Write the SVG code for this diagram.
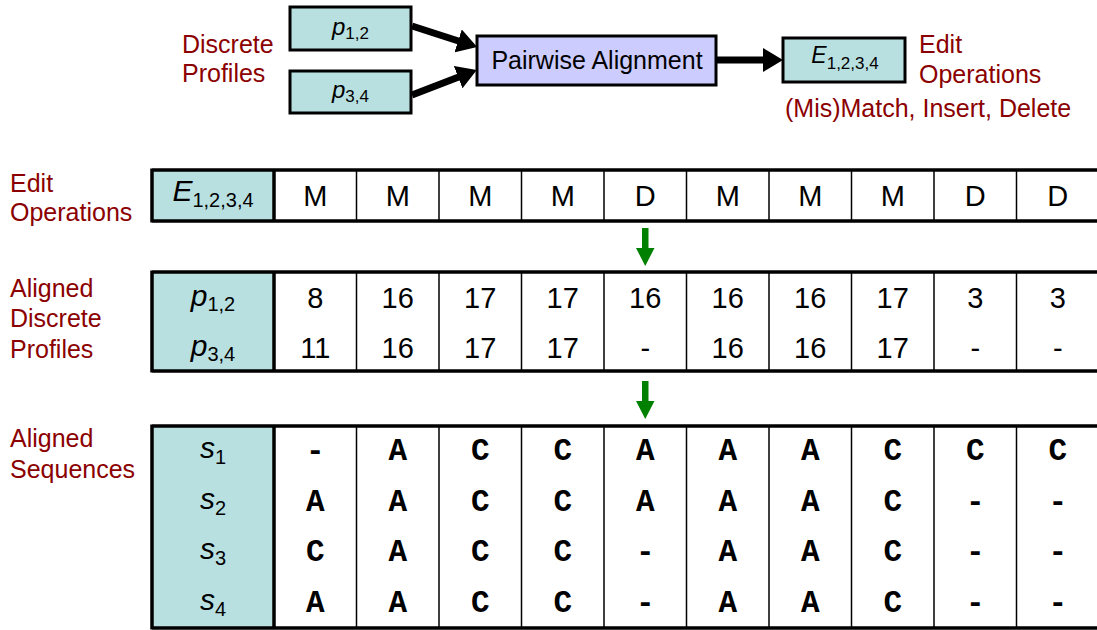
<svg xmlns="http://www.w3.org/2000/svg" width="1097" height="630" viewBox="0 0 1097 630">
<style>
text{font-family:"Liberation Sans",Arial,sans-serif;}
.lbl{font-size:25px;fill:#8B0000;}
.box{fill:#B9E0E1;stroke:#000;stroke-width:3;}
.pa{fill:#CCCCFF;stroke:#000;stroke-width:3;}
.hdr{fill:#B9E0E1;stroke:none;}
.thick{stroke:#000;stroke-width:3.5;fill:none;}
.thin{stroke:#000;stroke-width:1.5;fill:none;}
.cell{font-size:29px;text-anchor:middle;fill:#000;}
.mono{font-family:"Liberation Mono","Courier New",monospace;font-weight:bold;font-size:31px;text-anchor:middle;fill:#000;}
.it{font-style:italic;}
.conn{stroke:#000;stroke-width:7;fill:none;}
.green{fill:#008000;}
</style>
<defs>
<marker id="ah" markerUnits="userSpaceOnUse" markerWidth="22" markerHeight="24" refX="2" refY="12" orient="auto" viewBox="0 0 22 24">
<path d="M0,0 L20,12 L0,24 z" fill="#000"/>
</marker>
</defs>

<g id="label-discrete-profiles">
<text class="lbl" x="182" y="53">Discrete</text>
<text class="lbl" x="182" y="82">Profiles</text>
</g>
<g id="label-edit-operations-top">
<text class="lbl" x="919" y="53">Edit</text>
<text class="lbl" x="919" y="83">Operations</text>
<text class="lbl" x="785" y="117">(Mis)Match, Insert, Delete</text>
</g>

<g id="node-p12">
<rect class="box" x="290" y="7" width="121" height="43"/>
<text x="350.5" y="35" font-size="24" text-anchor="middle"><tspan class="it">p</tspan><tspan font-size="17" dy="4">1,2</tspan></text>
</g>
<g id="node-p34">
<rect class="box" x="290" y="71" width="121" height="42"/>
<text x="350.5" y="98" font-size="24" text-anchor="middle"><tspan class="it">p</tspan><tspan font-size="17" dy="4">3,4</tspan></text>
</g>
<g id="node-pairwise">
<rect class="pa" x="477" y="36" width="239" height="49"/>
<text x="597" y="69" font-size="25" text-anchor="middle">Pairwise Alignment</text>
</g>
<g id="node-E">
<rect class="box" x="783" y="38" width="122" height="44"/>
<text x="845" y="63" font-size="23" text-anchor="middle"><tspan class="it">E</tspan><tspan font-size="17" dy="6">1,2,3,4</tspan></text>
</g>

<g id="connectors">
<line class="conn" x1="412" y1="26" x2="460" y2="41.5" marker-end="url(#ah)"/>
<line class="conn" x1="412" y1="95" x2="460" y2="76.4" marker-end="url(#ah)"/>
<line class="conn" x1="716" y1="60" x2="765" y2="60" marker-end="url(#ah)"/>
<path class="green" d="M642,228 H648.5 V248 H654.5 L645.25,266 L636,248 H642 Z"/>
<path class="green" d="M642,381 H648.5 V401 H654.5 L645.25,419 L636,401 H642 Z"/>
</g>

<g id="label-edit-ops">
<text class="lbl" x="10" y="192">Edit</text>
<text class="lbl" x="10" y="221">Operations</text>
</g>
<g id="label-aligned-profiles">
<text class="lbl" x="10" y="297">Aligned</text>
<text class="lbl" x="10" y="327">Discrete</text>
<text class="lbl" x="10" y="358">Profiles</text>
</g>
<g id="label-aligned-seqs">
<text class="lbl" x="10" y="447">Aligned</text>
<text class="lbl" x="10" y="478">Sequences</text>
</g>

<g id="table-edit">
<rect class="hdr" x="152" y="170" width="122" height="51"/>
<path class="thin" d="M356.5,170V221M439,170V221M521.5,170V221M604,170V221M686.5,170V221M769,170V221M851.5,170V221M934,170V221M1016.5,170V221"/>
<path class="thick" d="M152,170H1097M152,221H1097M152,168.5V222.5M274,170V221"/>
<text x="213" y="201" font-size="30" text-anchor="middle"><tspan class="it">E</tspan><tspan font-size="20" dy="6">1,2,3,4</tspan></text>
<text class="cell" x="315.25" y="206">M</text>
<text class="cell" x="397.75" y="206">M</text>
<text class="cell" x="480.25" y="206">M</text>
<text class="cell" x="562.75" y="206">M</text>
<text class="cell" x="645.25" y="206">D</text>
<text class="cell" x="727.75" y="206">M</text>
<text class="cell" x="810.25" y="206">M</text>
<text class="cell" x="892.75" y="206">M</text>
<text class="cell" x="975.25" y="206">D</text>
<text class="cell" x="1057.75" y="206">D</text>
</g>

<g id="table-profiles">
<rect class="hdr" x="152" y="272" width="122" height="99"/>
<path class="thin" d="M356.5,272V371M439,272V371M521.5,272V371M604,272V371M686.5,272V371M769,272V371M851.5,272V371M934,272V371M1016.5,272V371"/>
<path class="thick" d="M152,272H1097M152,371H1097M152,270.5V372.5M274,272V371"/>
<text x="213" y="306" font-size="30" text-anchor="middle"><tspan class="it">p</tspan><tspan font-size="20" dy="5">1,2</tspan></text>
<text x="213" y="356" font-size="30" text-anchor="middle"><tspan class="it">p</tspan><tspan font-size="20" dy="5">3,4</tspan></text>
<text class="cell" x="315.25" y="308">8</text>
<text class="cell" x="397.75" y="308">16</text>
<text class="cell" x="480.25" y="308">17</text>
<text class="cell" x="562.75" y="308">17</text>
<text class="cell" x="645.25" y="308">16</text>
<text class="cell" x="727.75" y="308">16</text>
<text class="cell" x="810.25" y="308">16</text>
<text class="cell" x="892.75" y="308">17</text>
<text class="cell" x="975.25" y="308">3</text>
<text class="cell" x="1057.75" y="308">3</text>
<text class="cell" x="315.25" y="358">11</text>
<text class="cell" x="397.75" y="358">16</text>
<text class="cell" x="480.25" y="358">17</text>
<text class="cell" x="562.75" y="358">17</text>
<text class="cell" x="645.25" y="358">-</text>
<text class="cell" x="727.75" y="358">16</text>
<text class="cell" x="810.25" y="358">16</text>
<text class="cell" x="892.75" y="358">17</text>
<text class="cell" x="975.25" y="358">-</text>
<text class="cell" x="1057.75" y="358">-</text>
</g>

<g id="table-sequences">
<rect class="hdr" x="152" y="426" width="122" height="202"/>
<path class="thin" d="M356.5,426V628M439,426V628M521.5,426V628M604,426V628M686.5,426V628M769,426V628M851.5,426V628M934,426V628M1016.5,426V628"/>
<path class="thick" d="M152,426H1097M152,628H1097M152,424.5V629.5M274,426V628"/>
<text x="213" y="458" font-size="30" text-anchor="middle"><tspan class="it">s</tspan><tspan font-size="20" dy="6">1</tspan></text>
<text x="213" y="509" font-size="30" text-anchor="middle"><tspan class="it">s</tspan><tspan font-size="20" dy="6">2</tspan></text>
<text x="213" y="559" font-size="30" text-anchor="middle"><tspan class="it">s</tspan><tspan font-size="20" dy="6">3</tspan></text>
<text x="213" y="610" font-size="30" text-anchor="middle"><tspan class="it">s</tspan><tspan font-size="20" dy="6">4</tspan></text>
<text class="mono" y="460"><tspan x="315.25">-</tspan><tspan x="397.75">A</tspan><tspan x="480.25">C</tspan><tspan x="562.75">C</tspan><tspan x="645.25">A</tspan><tspan x="727.75">A</tspan><tspan x="810.25">A</tspan><tspan x="892.75">C</tspan><tspan x="975.25">C</tspan><tspan x="1057.75">C</tspan></text>
<text class="mono" y="511"><tspan x="315.25">A</tspan><tspan x="397.75">A</tspan><tspan x="480.25">C</tspan><tspan x="562.75">C</tspan><tspan x="645.25">A</tspan><tspan x="727.75">A</tspan><tspan x="810.25">A</tspan><tspan x="892.75">C</tspan><tspan x="975.25">-</tspan><tspan x="1057.75">-</tspan></text>
<text class="mono" y="561"><tspan x="315.25">C</tspan><tspan x="397.75">A</tspan><tspan x="480.25">C</tspan><tspan x="562.75">C</tspan><tspan x="645.25">-</tspan><tspan x="727.75">A</tspan><tspan x="810.25">A</tspan><tspan x="892.75">C</tspan><tspan x="975.25">-</tspan><tspan x="1057.75">-</tspan></text>
<text class="mono" y="612"><tspan x="315.25">A</tspan><tspan x="397.75">A</tspan><tspan x="480.25">C</tspan><tspan x="562.75">C</tspan><tspan x="645.25">-</tspan><tspan x="727.75">A</tspan><tspan x="810.25">A</tspan><tspan x="892.75">C</tspan><tspan x="975.25">-</tspan><tspan x="1057.75">-</tspan></text>
</g>
</svg>
